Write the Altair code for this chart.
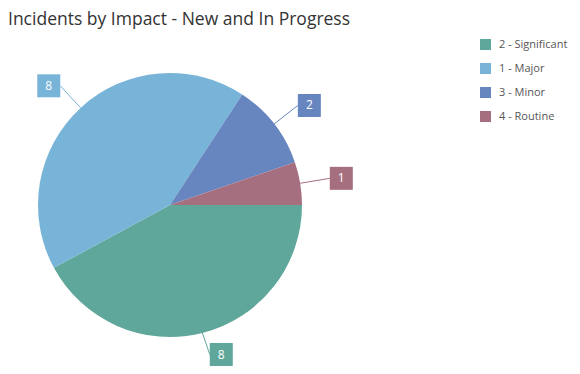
import math
import altair as alt
import pandas as pd

categories = ["2 - Significant", "1 - Major", "3 - Minor", "4 - Routine"]
counts = [8, 8, 2, 1]
colors = ["#5fa69b", "#78b4d8", "#6786bf", "#a66f7f"]
title_text = "Incidents by Impact - New and In Progress"

df = pd.DataFrame({"category": categories, "count": counts, "order": list(range(len(categories)))})

W, H = 564, 358
CX, CY, R = 162, 197, 132
RL = 162  # label anchor radius
HALF = 11.5

color_scale = alt.Scale(domain=categories, range=colors)

base = alt.Chart(df)

arcs = base.mark_arc(radius=R, stroke=None).encode(
    theta=alt.Theta("count:Q", stack=True, scale=alt.Scale(range=[math.pi / 2, math.pi / 2 + 2 * math.pi])),
    order=alt.Order("order:Q"),
    color=alt.Color(
        "category:N",
        scale=color_scale,
        sort=categories,
        legend=alt.Legend(
            title=None,
            orient="none",
            legendX=472,
            legendY=31,
            symbolType="square",
            symbolSize=121,
            symbolStrokeWidth=0,
            symbolOpacity=1,
            labelFont="Open Sans",
            labelFontSize=11,
            labelColor="#555555",
            labelOffset=8,
            labelLimit=200,
            rowPadding=12,
            padding=0,
        ),
    ),
    x=alt.value(CX),
    y=alt.value(CY),
)

calc = base.transform_joinaggregate(total="sum(count)").transform_window(
    cum="sum(count)", sort=[alt.SortField("order")]
).transform_calculate(
    mid="PI/2 + (datum.cum - datum.count/2) / datum.total * 2 * PI"
).transform_calculate(
    sx=f"{CX} + {R} * sin(datum.mid)",
    sy=f"{CY} - {R} * cos(datum.mid)",
    ax=f"{CX} + {RL} * sin(datum.mid)",
    ay=f"min({CY} - {RL} * cos(datum.mid), {H} - {HALF})",
).transform_calculate(
    bx=f"datum.ax + (sin(datum.mid) >= 0 ? {HALF} : -{HALF})"
)

rules = calc.mark_rule(strokeWidth=1).encode(
    x=alt.X("sx:Q", scale=None),
    y=alt.Y("sy:Q", scale=None),
    x2="ax:Q",
    y2="ay:Q",
    color=alt.Color("category:N", scale=color_scale, legend=None),
)

boxes = calc.mark_square(size=529, opacity=1, filled=True).encode(
    x=alt.X("bx:Q", scale=None),
    y=alt.Y("ay:Q", scale=None),
    color=alt.Color("category:N", scale=color_scale, legend=None),
)

labels = calc.mark_text(font="Open Sans", fontSize=12, color="white", align="center", baseline="middle").encode(
    x=alt.X("bx:Q", scale=None),
    y=alt.Y("ay:Q", scale=None),
    text="count:Q",
)

title = alt.Chart(pd.DataFrame({"t": [title_text]})).mark_text(
    font="Open Sans", fontSize=17.5, fontWeight="normal", color="#333333", align="left", baseline="top"
).encode(text="t:N", x=alt.value(0), y=alt.value(3))

chart = alt.layer(arcs, rules, boxes, labels, title).properties(
    width=W, height=H, autosize=alt.AutoSizeParams(type="none"), padding=0
).configure_view(stroke=None).resolve_scale(color="shared")

chart.save("out.html", embed_options={"renderer": "svg", "actions": False})
